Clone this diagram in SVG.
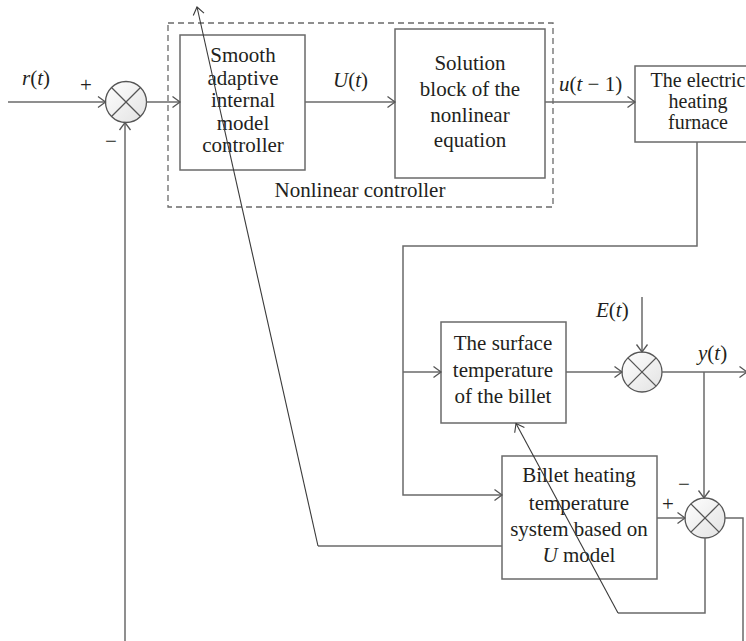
<svg xmlns="http://www.w3.org/2000/svg" width="746" height="641" viewBox="0 0 746 641">
<style>
.box{fill:#fff;stroke:#6a6a6a;stroke-width:1.5}
.ln{fill:none;stroke:#6a6a6a;stroke-width:1.5}
.thin{fill:none;stroke:#3a3a3a;stroke-width:1.1}
.sum{fill:url(#g);stroke:#555;stroke-width:1.3}
.x{stroke:#555;stroke-width:1.3}
.dash{fill:none;stroke:#6a6a6a;stroke-width:1.3;stroke-dasharray:6 4}
text{font-family:"Liberation Serif","Times New Roman",serif;font-size:21px;fill:#231f20}
.c{text-anchor:middle}
.i{font-style:italic}
.f{font-size:20px}
</style>
<defs>
<linearGradient id="g" x1="0" y1="0" x2="1" y2="1">
<stop offset="0" stop-color="#ffffff"/>
<stop offset="1" stop-color="#e2e2e2"/>
</linearGradient>
<marker id="a" markerUnits="userSpaceOnUse" markerWidth="14" markerHeight="14" refX="10" refY="7" orient="auto" viewBox="0 0 14 14">
<path d="M2.5,1.5 L10,7 L2.5,12.5" fill="none" stroke="#555" stroke-width="1.3"/>
</marker>
<marker id="at" markerUnits="userSpaceOnUse" markerWidth="14" markerHeight="14" refX="10" refY="7" orient="auto" viewBox="0 0 14 14">
<path d="M2.5,1.5 L10,7 L2.5,12.5" fill="none" stroke="#3a3a3a" stroke-width="1.1"/>
</marker>
</defs>

<g id="nonlinear-controller">
<rect class="dash" x="168" y="23" width="385" height="184"/>
<text class="c" x="360" y="197">Nonlinear controller</text>
</g>

<g id="sum1">
<circle class="sum" cx="126" cy="102" r="20.5"/>
<line class="x" x1="111.5" y1="87.5" x2="140.5" y2="116.5"/>
<line class="x" x1="140.5" y1="87.5" x2="111.5" y2="116.5"/>
</g>

<g id="smooth-controller">
<rect class="box" x="180" y="35" width="125" height="135"/>
<text class="c" x="243" y="62">Smooth</text>
<text class="c" x="243" y="85">adaptive</text>
<text class="c" x="243" y="107">internal</text>
<text class="c" x="243" y="130">model</text>
<text class="c" x="243" y="152">controller</text>
</g>

<g id="solution-block">
<rect class="box" x="395" y="29" width="150" height="149"/>
<text class="c" x="470" y="70">Solution</text>
<text class="c" x="470" y="96">block of the</text>
<text class="c" x="470" y="122">nonlinear</text>
<text class="c" x="470" y="147">equation</text>
</g>

<g id="furnace">
<rect class="box" x="635" y="66" width="130" height="76"/>
<text class="c f" x="698" y="87">The electric</text>
<text class="c f" x="698" y="108">heating</text>
<text class="c f" x="698" y="129">furnace</text>
</g>

<g id="surface-temp">
<rect class="box" x="441" y="322" width="125" height="101"/>
<text class="c" x="503" y="350">The surface</text>
<text class="c" x="503" y="377">temperature</text>
<text class="c" x="503" y="403">of the billet</text>
</g>

<g id="sum2">
<circle class="sum" cx="642" cy="372" r="20"/>
<line class="x" x1="627.9" y1="357.9" x2="656.1" y2="386.1"/>
<line class="x" x1="656.1" y1="357.9" x2="627.9" y2="386.1"/>
</g>

<g id="billet-model">
<rect class="box" x="502" y="456" width="155" height="123"/>
<text class="c" x="579" y="482">Billet heating</text>
<text class="c" x="579" y="510">temperature</text>
<text class="c" x="579" y="536">system based on</text>
<text class="c" x="579" y="562"><tspan class="i">U</tspan> model</text>
</g>

<g id="sum3">
<circle class="sum" cx="705" cy="518" r="20"/>
<line class="x" x1="690.9" y1="503.9" x2="719.1" y2="532.1"/>
<line class="x" x1="719.1" y1="503.9" x2="690.9" y2="532.1"/>
</g>

<g id="connectors">
<line class="ln" x1="8" y1="102" x2="105.5" y2="102" marker-end="url(#a)"/>
<line class="ln" x1="125" y1="641" x2="125" y2="122.5" marker-end="url(#a)"/>
<line class="ln" x1="146.5" y1="102" x2="180" y2="102" marker-end="url(#a)"/>
<line class="ln" x1="305" y1="102" x2="395" y2="102" marker-end="url(#a)"/>
<line class="ln" x1="545" y1="102" x2="635" y2="102" marker-end="url(#a)"/>
<polyline class="ln" points="697,142 697,246 403,246 403,495 502,495" marker-end="url(#a)"/>
<line class="ln" x1="403" y1="372" x2="441" y2="372" marker-end="url(#a)"/>
<line class="ln" x1="566" y1="372" x2="622" y2="372" marker-end="url(#a)"/>
<line class="ln" x1="642" y1="297" x2="642" y2="352" marker-end="url(#a)"/>
<line class="ln" x1="662" y1="372" x2="747" y2="372" marker-end="url(#a)"/>
<line class="ln" x1="704" y1="372" x2="704" y2="498" marker-end="url(#a)"/>
<line class="ln" x1="657" y1="518" x2="685" y2="518" marker-end="url(#a)"/>
<polyline class="ln" points="725,518 743,518 743,641"/>
<polyline class="ln" points="705,538 705,613 618,613"/>
<polyline class="thin" points="618,613 516,423.5" marker-end="url(#at)"/>
<polyline class="ln" points="502,546 318,546"/>
<polyline class="thin" points="318,546 197,7" marker-end="url(#at)"/>
</g>

<g id="labels">
<text x="22" y="85"><tspan class="i">r</tspan>(<tspan class="i">t</tspan>)</text>
<text x="80" y="92">+</text>
<text x="105" y="148">−</text>
<text x="333" y="87"><tspan class="i">U</tspan>(<tspan class="i">t</tspan>)</text>
<text x="559" y="91"><tspan class="i">u</tspan>(<tspan class="i">t</tspan> − 1)</text>
<text x="596" y="317"><tspan class="i">E</tspan>(<tspan class="i">t</tspan>)</text>
<text x="698" y="360"><tspan class="i">y</tspan>(<tspan class="i">t</tspan>)</text>
<text x="678" y="491">−</text>
<text x="662" y="511">+</text>
</g>
</svg>
